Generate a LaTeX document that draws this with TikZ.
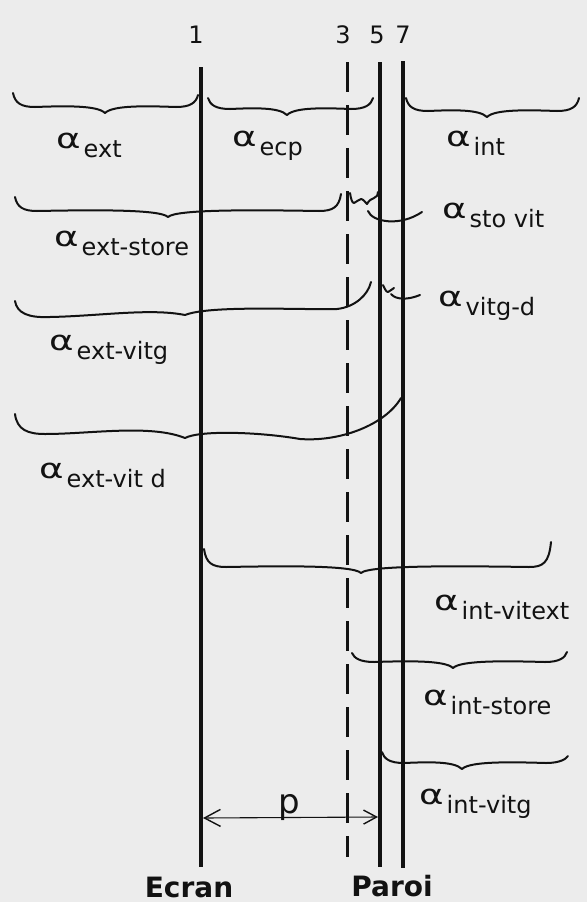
\documentclass[tikz,border=0pt]{standalone}
\usepackage{graphicx}
\usepackage{fontspec}
\setmainfont{DejaVu Sans}
\usetikzlibrary{arrows.meta}
\definecolor{bg}{RGB}{236,236,236}
\definecolor{ink}{RGB}{18,18,18}
\newcommand\alp{\scalebox{1.55}[1.15]{α}}
\newcommand\lab[1]{\fontsize{24}{24}\selectfont\alp\kern3pt\raisebox{-9pt}{#1}}
\newcommand\hbrace[6]{%
  \draw[brc] (#1,#2)
    .. controls (#1+2,#4-4) and (#1+8,#4) .. (#1+22,#4)
    .. controls ({#1+22+0.4*(#3-#1-22)},#4-1) and (#3-8,#4-2) .. (#3,#4+6)
    .. controls (#3+8,#4-2) and ({#5-22-0.4*(#5-22-#3)},#4-1) .. (#5-22,#4)
    .. controls (#5-8,#4) and (#5-2,#4-4) .. (#5,#6);}
\tikzset{
  wall/.style={line width=3.4pt, draw=ink},
  dwall/.style={line width=3pt, draw=ink, dash pattern=on 30pt off 13pt},
  brc/.style={line width=2pt, draw=ink, line cap=round, line join=round},
  lbl/.style={anchor=base west, inner sep=0pt, text=ink},
  num/.style={font=\fontsize{24}{24}\selectfont, inner sep=0pt, text=ink},
  big/.style={font=\bfseries\fontsize{28}{28}\selectfont, inner sep=0pt, text=ink},
  parrow/.style={line width=1.1pt, draw=ink,
    {Straight Barb[length=16pt,width=17pt,line width=1.4pt]}-{Straight Barb[length=13pt,width=14pt,line width=1.4pt]}},
}
\begin{document}
\begin{tikzpicture}[x=1pt,y=-1pt]
\fill[bg] (0,0) rectangle (587,902);
\useasboundingbox (0,0) rectangle (587,902);

% wall lines
\coordinate (l1t) at (201,67);  \coordinate (l1b) at (201,867);
\coordinate (l3t) at (347,62);  \coordinate (l3b) at (347,857);
\coordinate (l5t) at (380,62);  \coordinate (l5b) at (380,867);
\coordinate (l7t) at (403,61);  \coordinate (l7b) at (403,868);
\draw[wall] (l1t) -- (l1b);
\draw[dwall] (l3t) -- (l3b);
\draw[wall] (l5t) -- (l5b);
\draw[wall] (l7t) -- (l7b);

% numbers
\node[num] (n1) at (196,35) {1};
\node[num] (n3) at (343,35) {3};
\node[num] (n5) at (377,35) {5};
\node[num] (n7) at (403,35) {7};

% braces
\hbrace{13}{93}{105}{107}{198}{95}
\hbrace{208}{98}{287}{109}{373}{98}
\hbrace{406}{98}{487}{111}{579}{98}
\hbrace{15}{197}{168}{211}{341}{194}
\draw[brc] (15,301) .. controls (17,313) and (28,318) .. (50,317)
  .. controls (100,316) and (150,308) .. (185,315)
  .. controls (210,305) and (300,310) .. (337,309)
  .. controls (355,307) and (368,295) .. (371,282);
\draw[brc] (15,414) .. controls (17,430) and (28,434) .. (45,434)
  .. controls (90,434) and (150,424) .. (185,438)
  .. controls (200,430) and (260,432) .. (300,439)
  .. controls (340,442) and (385,425) .. (401,398);
\hbrace{204}{549}{361}{567}{551}{542}
\hbrace{352}{653}{453}{662}{567}{652}
\hbrace{382}{752}{462}{763}{568}{756}

% small braces and leaders
\draw[brc] (350,193) .. controls (351,199) and (352,203) .. (354,203)
  .. controls (357,202) and (359,199) .. (361,199)
  .. controls (363,199) and (365,202) .. (367,204)
  .. controls (369,200) and (372,199) .. (374,198)
  .. controls (377,197) and (378,195) .. (378,192);
\coordinate (stotip) at (368,211);
\coordinate (stoend) at (422,212);
\draw[brc] (stotip) .. controls (372,222) and (400,227) .. (stoend);
\draw[brc] (383,285) .. controls (385,289) and (386,292) .. (388,292)
  .. controls (390,292) and (391,289) .. (394,288);
\coordinate (vdtip) at (391,294);
\coordinate (vdend) at (420,295);
\draw[brc] (vdtip) .. controls (396,300) and (408,300) .. (vdend);

% labels
\node[lbl] (aext) at (56,148) {\lab{ext}};
\node[lbl] (aecp) at (232,146) {\lab{ecp}};
\node[lbl] (aint) at (446,146) {\lab{int}};
\node[lbl] (asto) at (442,218) {\lab{sto vit}};
\node[lbl] (avd)  at (438,306) {\lab{vitg-d}};
\node[lbl] (aes)  at (54,246) {\lab{ext-store}};
\node[lbl] (aev)  at (49,350) {\lab{ext-vitg}};
\node[lbl] (aevd) at (39,478) {\lab{ext-vit d}};
\node[lbl] (aiv)  at (434,610) {\lab{int-vitext}};
\node[lbl] (ais)  at (423,705) {\lab{int-store}};
\node[lbl] (aig)  at (419,804) {\lab{int-vitg}};

% dimension p
\coordinate (pl) at (203,818);
\coordinate (pr) at (378,817);
\draw[parrow] (pl) -- (pr);
\node[inner sep=0pt, text=ink, font=\fontsize{34}{34}\selectfont] (p) at (289,808) {p};

% bottom labels
\node[big] (ecran) at (189,887) {Ecran};
\node[big] (paroi) at (392,886) {Paroi};
\end{tikzpicture}
\end{document}
